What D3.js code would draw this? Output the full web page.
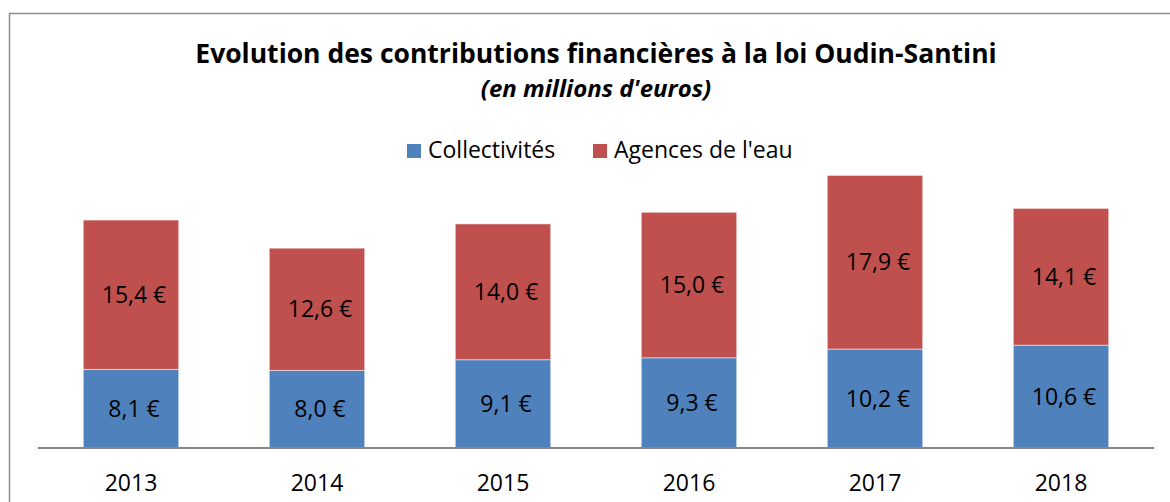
<!DOCTYPE html>
<html>
<head>
<meta charset="utf-8">
<script src="https://cdn.jsdelivr.net/npm/d3@7"></script>
<style>
  body { margin: 0; background: #fff; }
  svg { display: block; font-family: "Open Sans", sans-serif; }
</style>
</head>
<body>
<svg id="chart"></svg>
<script>
// data
const years = ['2013', '2014', '2015', '2016', '2017', '2018'];
const collectivites = [8.1, 8.0, 9.1, 9.3, 10.2, 10.6];
const agences = [15.4, 12.6, 14.0, 15.0, 17.9, 14.1];
const seriesNames = ['Collectivités', "Agences de l'eau"];
const seriesColors = ['#4f81bd', '#c0504d'];

const width = 1170, height = 502;
const margin = {top: 157, right: 16, bottom: 54, left: 38};

const svg = d3.select('#chart')
    .attr('width', width)
    .attr('height', height);

// outer frame (partly outside the window, like the screenshot)
svg.append('rect')
    .attr('x', 9.5).attr('y', 13.5)
    .attr('width', 1190).attr('height', 520)
    .attr('fill', 'none')
    .attr('stroke', '#8c8c8c')
    .attr('stroke-width', 1.5);

const rows = years.map((y, i) => ({year: y, c: collectivites[i], a: agences[i]}));
const stacked = d3.stack().keys(['c', 'a'])(rows);

const x = d3.scaleBand()
    .domain(years)
    .range([margin.left, width - margin.right])
    .paddingInner(0.487)
    .paddingOuter(0.2435);

const y = d3.scaleLinear()
    .domain([0, 30])
    .range([height - margin.bottom, margin.top]);

const fmt = v => d3.format('.1f')(v).replace('.', ',') + ' €';

const layers = svg.selectAll('g.layer')
    .data(stacked)
    .join('g')
    .attr('class', 'layer')
    .attr('fill', (d, i) => seriesColors[i]);

layers.selectAll('rect')
    .data(d => d)
    .join('rect')
    .attr('x', d => x(d.data.year))
    .attr('y', d => y(d[1]))
    .attr('width', x.bandwidth())
    .attr('height', d => y(d[0]) - y(d[1]))
    .attr('stroke', 'rgba(255,255,255,0.5)')
    .attr('stroke-width', 1);

layers.selectAll('text')
    .data(d => d)
    .join('text')
    .attr('x', d => x(d.data.year) + x.bandwidth() / 2 + 3)
    .attr('y', d => (y(d[0]) + y(d[1])) / 2)
    .attr('dy', '0.35em')
    .attr('text-anchor', 'middle')
    .attr('fill', '#000')
    .style('font-size', '23px')
    .text(d => fmt(d[1] - d[0]));

// category axis
const xAxis = svg.append('g')
    .attr('transform', `translate(0, ${y(0)})`)
    .call(d3.axisBottom(x).tickSize(0).tickSizeOuter(0).tickPadding(27));
xAxis.select('.domain')
    .attr('stroke', '#868686')
    .attr('stroke-width', 2)
    .attr('d', `M${margin.left},0H${width - margin.right}`);
xAxis.selectAll('text')
    .style('font-size', '23px')
    .style('font-family', '"Open Sans", sans-serif')
    .attr('fill', '#000');

// titles
const cx = 596;
svg.append('text')
    .attr('x', cx).attr('y', 63)
    .attr('text-anchor', 'middle')
    .style('font-size', '26.5px')
    .style('font-weight', 'bold')
    .text('Evolution des contributions financières à la loi Oudin-Santini');

svg.append('text')
    .attr('x', cx).attr('y', 97)
    .attr('text-anchor', 'middle')
    .style('font-size', '24px')
    .style('font-weight', 'bold')
    .style('font-style', 'italic')
    .text("(en millions d'euros)");

// legend
const legendItems = [
  {name: seriesNames[0], color: seriesColors[0], x: 407},
  {name: seriesNames[1], color: seriesColors[1], x: 593}
];
const legend = svg.append('g');
const li = legend.selectAll('g')
    .data(legendItems)
    .join('g')
    .attr('transform', d => `translate(${d.x}, 144)`);
li.append('rect')
    .attr('width', 14).attr('height', 14)
    .attr('fill', d => d.color);
li.append('text')
    .attr('x', 21).attr('y', 14)
    .style('font-size', '23px')
    .text(d => d.name);
</script>
</body>
</html>
